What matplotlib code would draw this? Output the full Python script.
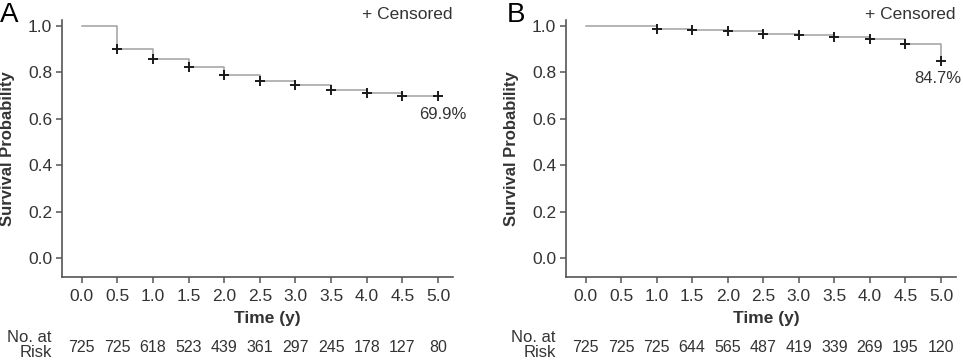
import matplotlib
matplotlib.use("Agg")
import matplotlib.pyplot as plt
import matplotlib.transforms as mtransforms

plt.rcParams["font.family"] = ["Liberation Sans", "DejaVu Sans"]

# time grid shared by both panels
time_ticks = [0.0, 0.5, 1.0, 1.5, 2.0, 2.5, 3.0, 3.5, 4.0, 4.5, 5.0]

# panel A: step times, survival after each step, censored marks
a_times = [0.0, 0.5, 1.0, 1.5, 2.0, 2.5, 3.0, 3.5, 4.0, 4.5, 5.0]
a_surv = [1.0, 0.900, 0.857, 0.823, 0.790, 0.762, 0.746, 0.725, 0.713, 0.700, 0.699]
a_risk = [725, 725, 618, 523, 439, 361, 297, 245, 178, 127, 80]
a_final = "69.9%"

# panel B
b_times = [0.0, 1.0, 1.5, 2.0, 2.5, 3.0, 3.5, 4.0, 4.5, 5.0]
b_surv = [1.0, 0.987, 0.981, 0.977, 0.967, 0.960, 0.953, 0.943, 0.924, 0.847]
b_risk = [725, 725, 725, 644, 565, 487, 419, 339, 269, 195, 120]
b_final = "84.7%"

TXT = "#333333"
AX = "#555555"


def draw_panel(fig, rect, letter, letter_x, times, surv, risk, final, final_xy, xlab_x):
    ax = fig.add_axes(rect)
    ax.step(times, surv, where="post", color="#a0a0a0", lw=1.1)
    ax.plot(times[1:], surv[1:], ls="none", marker="+", ms=7.5, mew=1.4, color="#1a1a1a")

    ax.set_xlim(-0.275, 5.21)
    ax.set_ylim(-0.082, 1.026)
    ax.set_xticks(time_ticks)
    ax.set_xticklabels([f"{t:.1f}" for t in time_ticks])
    ax.set_yticks([0.0, 0.2, 0.4, 0.6, 0.8, 1.0])
    ax.set_yticklabels([f"{v:.1f}" for v in [0.0, 0.2, 0.4, 0.6, 0.8, 1.0]])

    for s in ["top", "right"]:
        ax.spines[s].set_visible(False)
    for s in ["left", "bottom"]:
        ax.spines[s].set_color(AX)
        ax.spines[s].set_linewidth(1.2)
    ax.tick_params(colors=AX, labelcolor=TXT, labelsize=12.5, length=4, width=1.1, pad=3)
    ax.tick_params(axis="x", pad=5)

    ax.set_xlabel("Time (y)", fontsize=12.5, fontweight="bold", color=TXT)
    ax.xaxis.set_label_coords(xlab_x, -0.133)
    ax.set_ylabel("Survival Probability", fontsize=12, fontweight="bold", color=TXT)
    ax.yaxis.set_label_coords(-0.12, 0.5)

    ax.text(final_xy[0], final_xy[1], final, ha="center", va="center", fontsize=12, color=TXT)
    ax.text(1.0, 1.02, "+ Censored", transform=ax.transAxes, ha="right", va="center",
            fontsize=12.5, color=TXT)

    trans = mtransforms.blended_transform_factory(ax.transData, ax.transAxes)
    for t, n in zip(time_ticks, risk):
        ax.text(t, -0.276, str(n), transform=trans, ha="center", va="center",
                fontsize=11.5, color=TXT)
    ax.text(-0.026, -0.265, "No. at\nRisk", transform=ax.transAxes, ha="right",
            va="center", fontsize=12, color=TXT, linespacing=1.05)

    fig.text(letter_x, 0.995, letter, ha="left", va="top", fontsize=20, color="black")
    return ax


def main():
    fig = plt.figure(figsize=(9.63, 3.61), dpi=100)
    draw_panel(fig, [0.0644, 0.2327, 0.406, 0.712], "A", 0.0, a_times, a_surv, a_risk,
               a_final, (5.07, 0.62), 0.524)
    draw_panel(fig, [0.5877, 0.2327, 0.405, 0.712], "B", 0.526, b_times, b_surv, b_risk,
               b_final, (4.96, 0.775), 0.514)
    fig.savefig("out.png", dpi=100)
    plt.close(fig)


if __name__ == "__main__":
    main()
